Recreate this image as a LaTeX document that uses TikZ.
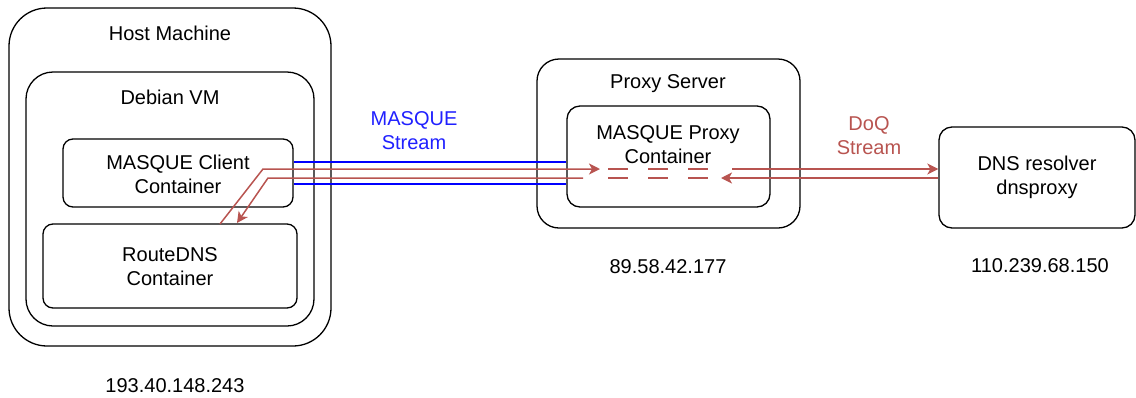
\documentclass[tikz,border=0pt]{standalone}
\usepackage{fontspec}
\setmainfont{Liberation Sans}
\usetikzlibrary{arrows.meta}
\definecolor{dred}{HTML}{B85450}
\definecolor{lblue}{HTML}{0000FF}
\definecolor{tblue}{HTML}{2020FF}
\begin{document}
\begin{tikzpicture}[x=1pt,y=-1pt,
  box/.style={draw=black, line width=1.3pt, rectangle, inner sep=0pt},
  lbl/.style={font=\fontsize{20}{24}\selectfont, align=center, inner sep=0pt},
  redline/.style={draw=dred, line width=1.5pt},
  redarrow/.style={redline, -{Stealth[length=11pt,width=11pt,inset=3pt]}},
  blueline/.style={draw=lblue, line width=1.4pt}]
\useasboundingbox (0,0) rectangle (1136,397);
% boxes
\node[box, rounded corners=38pt, minimum width=322pt, minimum height=338pt] (host) at (170,177) {};
\node[box, rounded corners=27pt, minimum width=288pt, minimum height=254pt] (debian) at (170,199) {};
\node[box, rounded corners=10pt, minimum width=230pt, minimum height=68pt] (client) at (178,173) {};
\node[box, rounded corners=10pt, minimum width=254pt, minimum height=84pt] (routedns) at (170,266) {};
\node[box, rounded corners=22pt, minimum width=263pt, minimum height=169pt] (proxy) at (668.5,143.5) {};
\node[box, rounded corners=13pt, minimum width=203pt, minimum height=101pt] (proxyc) at (668.5,156.5) {};
\node[box, rounded corners=13pt, minimum width=196pt, minimum height=101pt] (dns) at (1037,177.5) {};
% labels
\node[lbl] (hostlbl) at (170,33) {Host Machine};
\node[lbl] (debianlbl) at (170,97) {Debian VM};
\node[lbl] (clientlbl) at (178,174) {MASQUE Client\\Container};
\node[lbl] (routednslbl) at (170,267) {RouteDNS\\Container};
\node[lbl] (hostip) at (175,386) {193.40.148.243};
\node[lbl] (proxylbl) at (668,84) {Proxy Server};
\node[lbl] (proxyclbl) at (668,145) {MASQUE Proxy\\Container};
\node[lbl] (proxyip) at (668,267) {89.58.42.177};
\node[lbl] (dnslbl) at (1037,177) {DNS resolver\\dnsproxy};
\node[lbl] (dnsip) at (1040,266) {110.239.68.150};
\node[lbl, text=tblue] (masquelbl) at (414,130.5) {MASQUE\\Stream};
\node[lbl, text=dred] (doqlbl) at (869,136) {DoQ\\Stream};
% blue link
\draw[blueline] (client.east |- 0,162) -- (proxyc.west |- 0,162);
\draw[blueline] (client.east |- 0,184) -- (proxyc.west |- 0,184);
% red connectors
\coordinate (r1s) at (220,224);
\coordinate (r1b) at (263,169);
\coordinate (r1e) at (600,169);
\coordinate (r2s) at (583,178);
\coordinate (r2b) at (268,178);
\coordinate (r2e) at (237,223);
\draw[redarrow] (r1s) -- (r1b) -- (r1e);
\draw[redarrow] (r2s) -- (r2b) -- (r2e);
\draw[redline, dash pattern=on 19.5pt off 20.5pt] (608,169) -- (712,169);
\draw[redline, dash pattern=on 19.5pt off 20.5pt] (608,178) -- (712,178);
\draw[redarrow] (732,169) -- (dns.west |- 0,169);
\draw[redarrow] (dns.west |- 0,178) -- (721,178);
\end{tikzpicture}
\end{document}
